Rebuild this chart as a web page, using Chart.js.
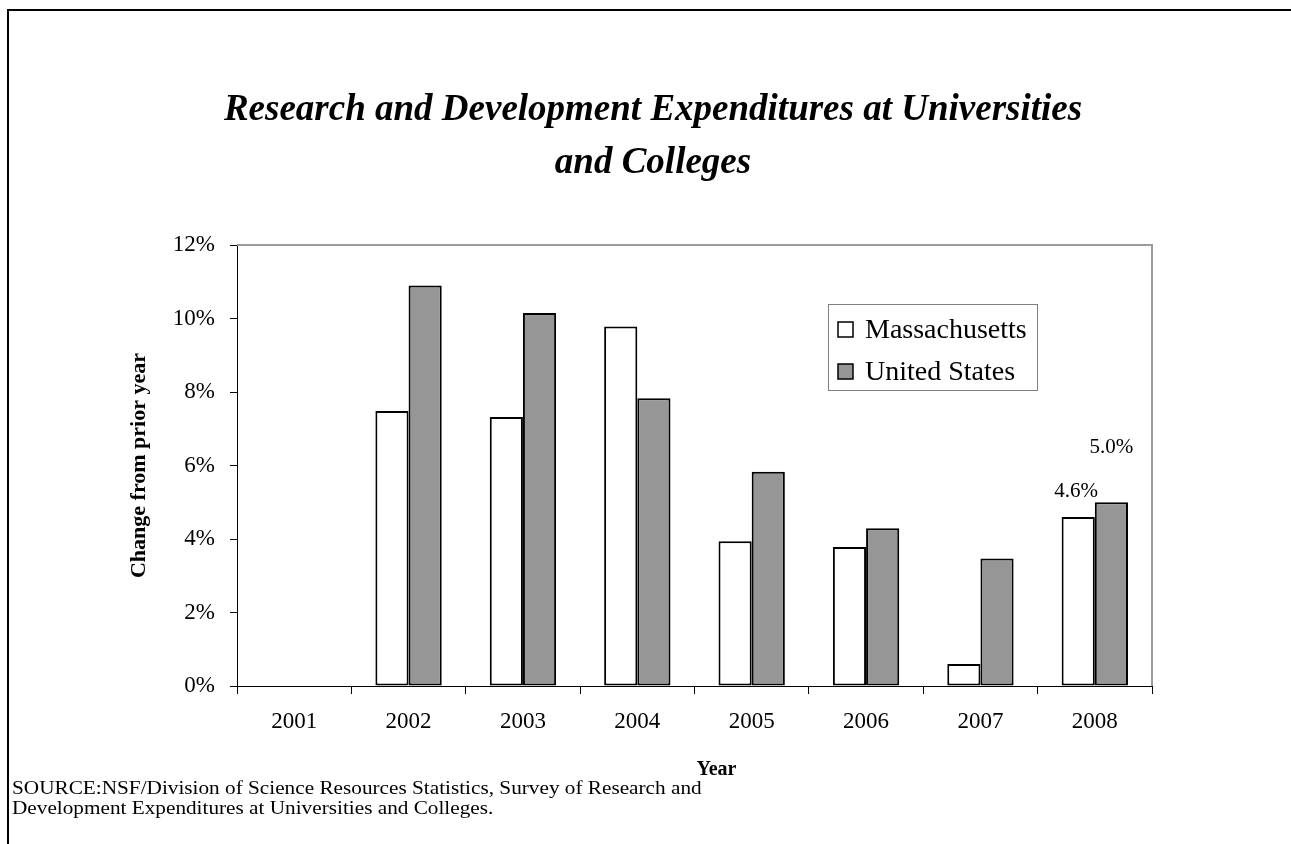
<!DOCTYPE html>
<html>
<head>
<meta charset="utf-8">
<script src="https://cdn.jsdelivr.net/npm/chart.js@4"></script>
<style>
  html, body { margin: 0; padding: 0; background: #fff; }
</style>
</head>
<body>
<canvas id="chart" width="1291" height="844"></canvas>
<script>
// values (percent change from prior year)
const years = ["2001", "2002", "2003", "2004", "2005", "2006", "2007", "2008"];
const massachusetts = [null, 7.48, 7.32, 9.78, 3.94, 3.78, 0.6, 4.6];
const unitedStates = [null, 10.9, 10.15, 7.83, 5.83, 4.29, 3.47, 5.0];
const massachusettsLabels = [null, null, null, null, null, null, null, "4.6%"];
const unitedStatesLabels = [null, null, null, null, null, null, null, "5.0%"];
const yTickMin = 0, yTickMax = 12, yTickStep = 2;

const serif = "'Liberation Serif', 'Times New Roman', serif";
const titleLines = ["Research and Development Expenditures at Universities", "and Colleges"];
const xTitle = "Year";
const sourceLines = [
  "SOURCE:NSF/Division of Science Resources Statistics, Survey of Research and",
  "Development Expenditures at Universities and Colleges."
];

// page frame, plot border, titles, source note
const decorations = {
  id: "decorations",
  beforeDatasetsDraw(chart){
    let ctx = chart.ctx, a = chart.chartArea;
    ctx.save();
    ctx.strokeStyle = "#9a9a9a";
    ctx.lineWidth = 2;
    ctx.beginPath();
    ctx.moveTo(a.left, a.top);
    ctx.lineTo(a.right, a.top);
    ctx.lineTo(a.right, a.bottom);
    ctx.stroke();
    ctx.restore();
  },
  afterDraw(chart){
    let ctx = chart.ctx, a = chart.chartArea;
    ctx.save();
    ctx.strokeStyle = "#000";
    ctx.lineWidth = 2;
    ctx.beginPath();
    ctx.moveTo(chart.width, 10);
    ctx.lineTo(8, 10);
    ctx.lineTo(8, chart.height);
    ctx.stroke();

    ctx.fillStyle = "#000";
    ctx.textAlign = "center";
    ctx.textBaseline = "middle";
    ctx.font = "italic bold 37px " + serif;
    titleLines.forEach((t, i)=>{ ctx.fillText(t, 653, 110 + i * 53); });

    ctx.font = "bold 20px " + serif;
    ctx.fillText(xTitle, (a.left + a.right) / 2 + 22, 770);

    // source note is set wider than the plain font
    ctx.textAlign = "left";
    ctx.font = "18px " + serif;
    ctx.translate(12, 0);
    ctx.scale(1.18, 1);
    sourceLines.forEach((t, i)=>{ ctx.fillText(t, 0, 789 + i * 20); });
    ctx.restore();
  }
};

// legend box drawn inside the plot area
const boxLegend = {
  id: "boxLegend",
  afterDatasetsDraw(chart){
    let ctx = chart.ctx, a = chart.chartArea;
    let x = a.left + 591, y = a.top + 59;
    ctx.save();
    ctx.fillStyle = "#fff";
    ctx.fillRect(x, y, 209, 86);
    ctx.strokeStyle = "#808080";
    ctx.lineWidth = 1;
    ctx.strokeRect(x + 0.5, y + 0.5, 209, 86);
    ctx.font = "28px " + serif;
    ctx.textBaseline = "middle";
    chart.data.datasets.forEach((ds, i)=>{
      let cy = y + 26 + i * 42;
      ctx.fillStyle = ds.backgroundColor;
      ctx.fillRect(x + 10, cy - 8, 15, 15);
      ctx.strokeStyle = "#000";
      ctx.lineWidth = 1.5;
      ctx.strokeRect(x + 10, cy - 8, 15, 15);
      ctx.fillStyle = "#000";
      ctx.fillText(ds.label, x + 37, cy + 1);
    });
    ctx.restore();
  }
};

// value labels above the 2008 bars
const valueLabels = {
  id: "valueLabels",
  afterDatasetsDraw(chart, args, opts){
    let ctx = chart.ctx;
    ctx.save();
    ctx.font = "21px " + serif;
    ctx.fillStyle = "#000";
    ctx.textAlign = "center";
    ctx.textBaseline = "middle";
    chart.data.datasets.forEach((ds, i)=>{
      let meta = chart.getDatasetMeta(i);
      ds.valueLabels.forEach((txt, j)=>{
        if(!txt) return;
        let bar = meta.data[j];
        ctx.fillText(txt, bar.x + opts.dx[i], bar.y - opts.dy[i]);
      });
    });
    ctx.restore();
  }
};

new Chart(document.getElementById("chart").getContext("2d"), {
  type: "bar",
  data: {
    labels: years,
    datasets: [{
      label: "Massachusetts",
      data: massachusetts,
      valueLabels: massachusettsLabels,
      backgroundColor: "#ffffff",
      borderColor: "#000000",
      borderWidth: 2,
      borderSkipped: false,
      barPercentage: 1,
      categoryPercentage: 0.58
    }, {
      label: "United States",
      data: unitedStates,
      valueLabels: unitedStatesLabels,
      backgroundColor: "#969696",
      borderColor: "#000000",
      borderWidth: 2,
      borderSkipped: false,
      barPercentage: 1,
      categoryPercentage: 0.58
    }]
  },
  options: {
    responsive: false,
    animation: false,
    devicePixelRatio: 1,
    layout: { padding: { left: 126, top: 245, right: 139, bottom: 62 } },
    plugins: {
      legend: { display: false },
      tooltip: { enabled: false },
      valueLabels: { dx: [-2, 0], dy: [25, 55] }
    },
    scales: {
      x: {
        grid: { drawOnChartArea: false, offset: true, color: "#000", tickLength: 8, tickWidth: 1 },
        border: { color: "#000", width: 1 },
        ticks: { color: "#000", font: { family: serif, size: 23 }, padding: 14, maxRotation: 0 },
        afterFit(scale){ scale.height = 96; }
      },
      y: {
        min: yTickMin,
        max: yTickMax,
        grid: { drawOnChartArea: false, color: "#000", tickLength: 7 },
        border: { color: "#000", width: 1 },
        ticks: {
          stepSize: yTickStep,
          color: "#000",
          font: { family: serif, size: 23 },
          padding: 15,
          callback: (v)=> v + "%"
        },
        title: { display: true, text: "Change from prior year", color: "#000", font: { family: serif, size: 22, weight: "bold" }, padding: 0 },
        afterFit(scale){ scale.width = 111; }
      }
    }
  },
  plugins: [decorations, boxLegend, valueLabels]
});
</script>
</body>
</html>
